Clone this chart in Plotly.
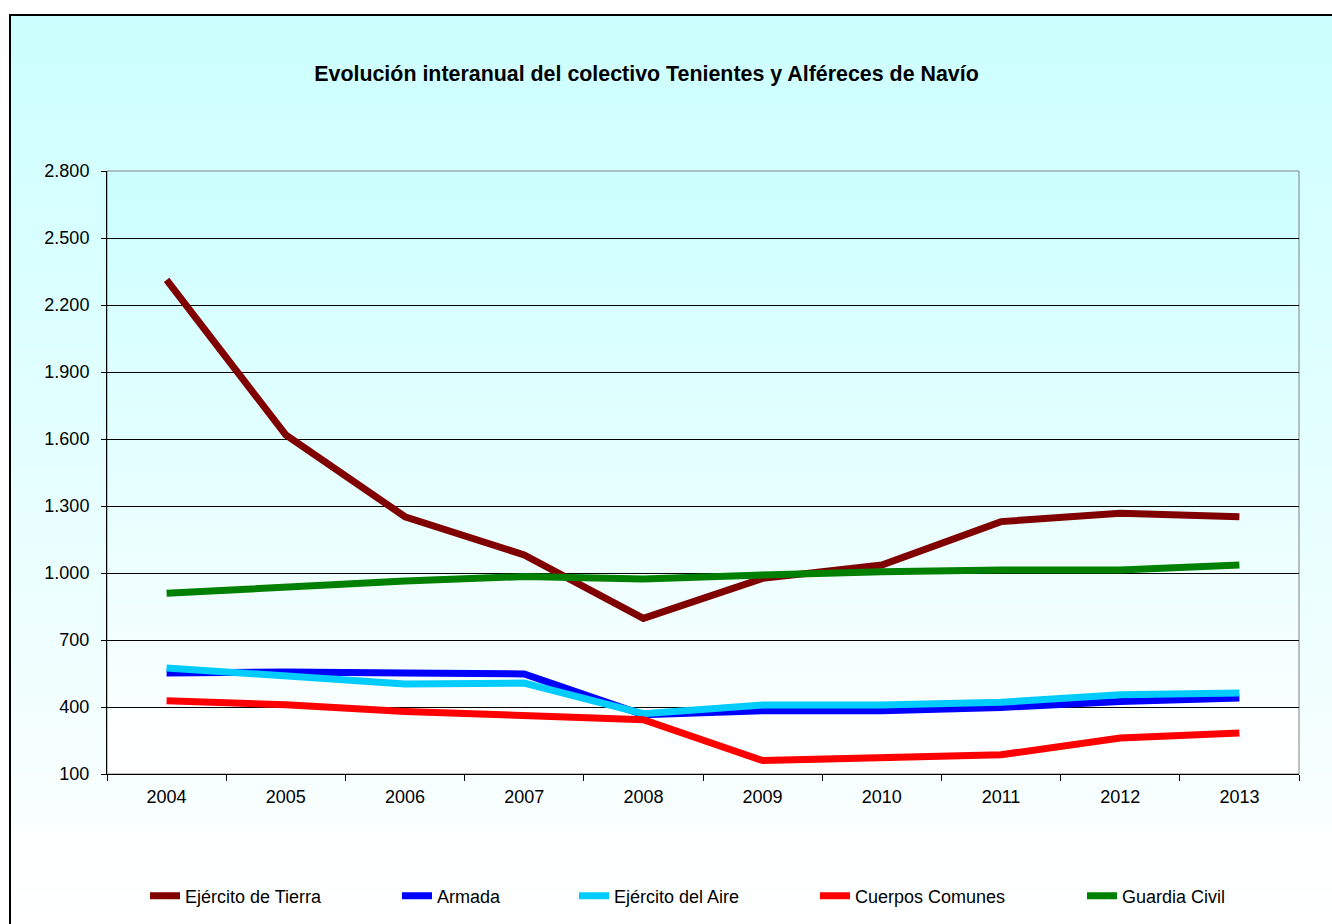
import plotly.graph_objects as go

# data
years = ['2004', '2005', '2006', '2007', '2008', '2009', '2010', '2011', '2012', '2013']
tierra = [2312, 1618, 1252, 1081, 797, 976, 1036, 1230, 1267, 1252]
armada = [552, 557, 552, 548, 365, 383, 383, 398, 425, 440]
aire = [575, 537, 503, 507, 370, 409, 409, 421, 455, 463]
comunes = [428, 410, 380, 361, 343, 160, 176, 186, 261, 284]
guardia = [909, 939, 964, 984, 973, 991, 1006, 1013, 1013, 1036]
y_ticks = [100, 400, 700, 1000, 1300, 1600, 1900, 2200, 2500, 2800]

series = [
    ('Ejército de Tierra', tierra, '#800000'),
    ('Armada', armada, '#0000FF'),
    ('Ejército del Aire', aire, '#00CCFF'),
    ('Cuerpos Comunes', comunes, '#FF0000'),
    ('Guardia Civil', guardia, '#008000'),
]

# page geometry (pixels)
W, H = 1332, 924
L, R, T, B = 107, 1299, 171, 774
PW, PH = R - L, B - T


def px_x(px):
    return (px - L) / PW


def px_y(py):
    return (B - py) / PH


def mix(f):
    # light cyan -> white
    r = int(round(204 + 51 * f))
    return 'rgb(%d,255,255)' % r


fig = go.Figure()

legend_names = ['legend', 'legend2', 'legend3', 'legend4', 'legend5']
legend_text_x = [185, 437, 614, 855, 1122]

for (name, vals, color), lg in zip(series, legend_names):
    fig.add_trace(go.Scatter(
        x=years, y=vals, name=name, mode='lines',
        line=dict(color=color, width=7),
        legend=lg,
    ))

shapes = []
# chart area gradient
n = 60
top, bot = 14, 924
for i in range(n):
    y0 = top + (bot - top) * i / n
    y1 = top + (bot - top) * (i + 2) / n
    shapes.append(dict(type='rect', xref='paper', yref='paper', layer='below',
                       x0=px_x(10), x1=px_x(1400), y0=px_y(min(y1, bot + 80)), y1=px_y(y0),
                       fillcolor=mix(i / (n - 1)), line=dict(width=0)))
# plot area gradient
for i in range(n):
    f0 = i / n
    f1 = min(1, (i + 2) / n)
    shapes.append(dict(type='rect', xref='paper', yref='paper', layer='below',
                       x0=0, x1=1, y0=1 - f1, y1=1 - f0,
                       fillcolor=mix(i / (n - 1)), line=dict(width=0)))
# plot area border
shapes.append(dict(type='rect', xref='paper', yref='paper', layer='below',
                   x0=0, x1=1, y0=0, y1=1, line=dict(color='#808080', width=1)))
# chart frame
shapes.append(dict(type='rect', xref='paper', yref='paper', layer='below',
                   x0=px_x(10), x1=px_x(1420), y0=px_y(1100), y1=px_y(15),
                   line=dict(color='black', width=2)))

layout = dict(
    width=W, height=H,
    margin=dict(l=L, r=W - R, t=T, b=H - B, pad=0),
    paper_bgcolor='white',
    plot_bgcolor='rgba(0,0,0,0)',
    font=dict(family='Liberation Sans, Arial, sans-serif', size=18, color='black'),
    separators=',.',
    showlegend=True,
    title=dict(
        text='<b>Evolución interanual del colectivo Tenientes y Alféreces de Navío</b>',
        font=dict(size=21.4, color='black'),
        xref='paper', x=px_x(646.5), xanchor='center',
        yref='container', y=1 - 74 / H, yanchor='middle',
    ),
    xaxis=dict(
        type='category', range=[-0.5, 9.5], tickson='boundaries',
        ticks='outside', ticklen=6, tickcolor='black',
        showline=True, linecolor='black', linewidth=1,
        showgrid=False, zeroline=False, ticklabelstandoff=6,
    ),
    yaxis=dict(
        range=[100, 2800], tickvals=y_ticks, tickformat=',d',
        ticks='outside', ticklen=5, tickcolor='black',
        showline=True, linecolor='black', linewidth=1,
        showgrid=True, gridcolor='black', gridwidth=1, zeroline=False,
        ticklabelstandoff=8,
    ),
    shapes=shapes,
)

for lg, tx in zip(legend_names, legend_text_x):
    layout[lg] = dict(
        xref='container', x=(tx - 40) / W, xanchor='left',
        yref='container', y=1 - 896 / H, yanchor='middle',
        orientation='h', bgcolor='rgba(0,0,0,0)', borderwidth=0,
        font=dict(size=18),
    )

fig.update_layout(**layout)
# drop the default page margin so the figure sits at the window origin
fig.write_html('out.html', config={'displayModeBar': False},
               post_script="document.body.style.margin='0';")
